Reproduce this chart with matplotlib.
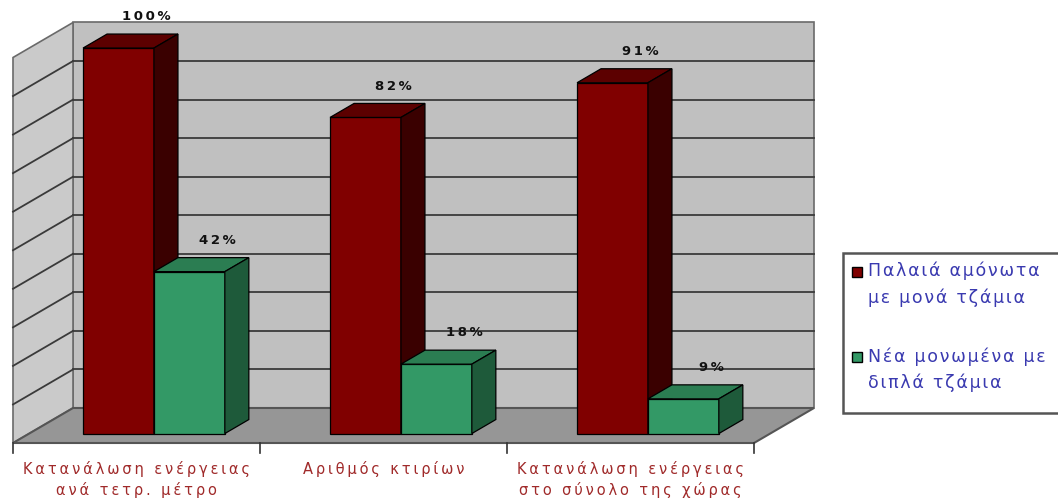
import matplotlib.pyplot as plt
from matplotlib.patches import Polygon, Rectangle

# data
categories = ["Κατανάλωση ενέργειας\nανά τετρ. μέτρο", "Αριθμός κτιρίων",
              "Κατανάλωση ενέργειας\nστο σύνολο της χώρας"]
series_names = ["Παλαιά αμόνωτα\nμε μονά τζάμια", "Νέα μονωμένα με\nδιπλά τζάμια"]
old_vals = [100, 82, 91]
new_vals = [42, 18, 9]
labels_old = ["100%", "82%", "91%"]
labels_new = ["42%", "18%", "9%"]

# colours (front, top, side)
red = ("#800000", "#5c0000", "#3a0000")
green = ("#339966", "#2b7d52", "#1e5a3a")

# pseudo-3D depth (full floor depth in data units)
DX, DY = 0.243, 9.08
ZF, ZB = 0.27, 0.67     # bar front/back depth
W = 0.287               # bar width (category units)


def proj(x, z, y):
    return (x + z * DX, y + z * DY)


def spaced(s, sep):
    # old Excel renders with wide letter spacing
    return "\n".join(sep.join(line) for line in s.split("\n"))


fig = plt.figure(figsize=(10.58, 5.01), dpi=100)
ax = fig.add_axes([0, 0, 1, 1])
ax.set_xlim(-13 / 247, 1045 / 247)
ax.set_ylim(-58 / 3.855, 443 / 3.855)
ax.axis("off")

n = len(categories)
edge = "#6a6a6a"

# walls & floor
ax.add_patch(Polygon([proj(0, 1, 0), proj(n, 1, 0), proj(n, 1, 100), proj(0, 1, 100)],
                     closed=True, fc="#c0c0c0", ec=edge, lw=1.2, zorder=1))
ax.add_patch(Polygon([proj(0, 0, 0), proj(0, 1, 0), proj(0, 1, 100), proj(0, 0, 100)],
                     closed=True, fc="#cacaca", ec=edge, lw=1.2, zorder=1))
ax.add_patch(Polygon([proj(0, 0, 0), proj(n, 0, 0), proj(n, 1, 0), proj(0, 1, 0)],
                     closed=True, fc="#969696", ec="#555555", lw=1.5, zorder=2))

# gridlines
for v in range(10, 100, 10):
    a, b = proj(0, 1, v), proj(n, 1, v)
    ax.plot([a[0], b[0]], [a[1], b[1]], color="#3a3a3a", lw=1.3, zorder=1.5)
    a, b = proj(0, 0, v), proj(0, 1, v)
    ax.plot([a[0], b[0]], [a[1], b[1]], color="#3a3a3a", lw=1.3, zorder=1.5)

# category ticks
for i in range(n + 1):
    ax.plot([i, i], [0, -2.6], color="#333333", lw=1.2, zorder=2)


def draw_bar(x0, v, cols, z):
    fx, fy = proj(x0, ZF, 0)
    ax.bar(fx, v, width=W, bottom=fy, align="edge", color=cols[0],
           edgecolor="black", lw=0.9, zorder=z)
    ax.add_patch(Polygon([proj(x0, ZF, v), proj(x0 + W, ZF, v), proj(x0 + W, ZB, v), proj(x0, ZB, v)],
                         closed=True, fc=cols[1], ec="black", lw=0.9, zorder=z))
    ax.add_patch(Polygon([proj(x0 + W, ZF, 0), proj(x0 + W, ZB, 0), proj(x0 + W, ZB, v), proj(x0 + W, ZF, v)],
                         closed=True, fc=cols[2], ec="black", lw=0.9, zorder=z))


for i in range(n):
    xo = i + 0.505 - W
    xn = i + 0.505
    draw_bar(xo, old_vals[i], red, 3 + 2 * i)
    draw_bar(xn, new_vals[i], green, 4 + 2 * i)
    for x0, v, lab in [(xo, old_vals[i], labels_old[i]), (xn, new_vals[i], labels_new[i])]:
        tx, ty = proj(x0 + W / 2, ZB, v)
        ax.text(tx + 0.015, ty + 4.5, spaced(lab, "\u2009"), ha="center", va="center",
                fontsize=9.5, fontweight="bold", color="#111111", zorder=20)
    ax.text(i + 0.5, -4.6, spaced(categories[i], "\u2009"), ha="center", va="top",
            fontsize=10.5, color="#a02a2a", linespacing=1.4, zorder=20)

# legend box (runs off the right edge)
fig.patches.append(Rectangle((843 / 1058, 88 / 501), 230 / 1058, 160 / 501,
                             transform=fig.transFigure, fc="white", ec="#555555", lw=1.8))
for k, (name, col) in enumerate(zip(series_names, [red[0], green[0]])):
    yc = 272 + k * 85
    fig.patches.append(Rectangle((852 / 1058, (501 - yc - 5) / 501), 10 / 1058, 10 / 501,
                                 transform=fig.transFigure, fc=col, ec="black", lw=1))
    fig.text(868 / 1058, (501 - yc + 10) / 501, spaced(name, "\u200a"), ha="left", va="top",
             fontsize=12.5, color="#3a3ab0", linespacing=1.55)

fig.savefig("out.png", dpi=100)
